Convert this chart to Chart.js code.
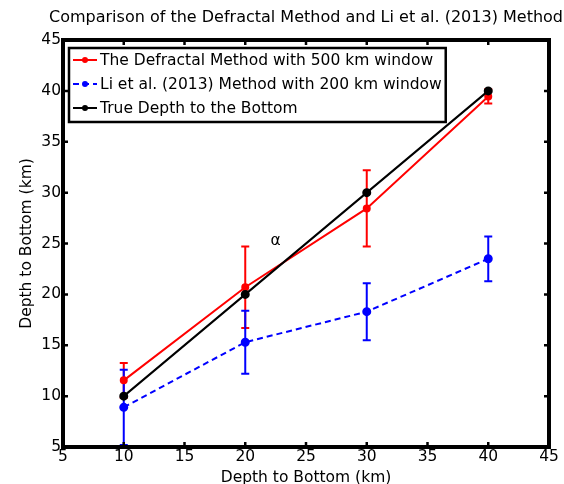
<!DOCTYPE html>
<html>
<head>
<meta charset="utf-8">
<script src="https://cdn.jsdelivr.net/npm/chart.js"></script>
<style>
html, body { margin: 0; padding: 0; background: #fff; }
</style>
</head>
<body>
<canvas id="depthChart" width="564" height="484"></canvas>
<script>
// values
const depth = [10, 20, 30, 40];
const defractal = [11.55, 20.7, 28.45, 39.45];
const defractalErr = [1.7, 4.0, 3.75, 0.7];
const liMethod = [8.9, 15.3, 18.3, 23.5];
const liErr = [3.7, 3.1, 2.8, 2.2];
const trueDepth = [10, 20, 30, 40];
const axisTicks = [5, 10, 15, 20, 25, 30, 35, 40, 45];
const seriesLabels = ['The Defractal Method with 500 km window', 'Li et al. (2013) Method with 200 km window', 'True Depth to the Bottom'];
const titleText = 'Comparison of the Defractal Method and Li et al. (2013) Method';
const axisTitle = 'Depth to Bottom (km)';
const note = { x: 22.5, y: 25.2, text: 'α' };

const FONT = '"DejaVu Sans", "Liberation Sans", Arial, sans-serif';
const FS = 15.5;

function points(xs, ys) {
	return xs.map((x, i) => ({ x: x, y: ys[i] }));
}

// vertical error bars with caps
const errorBars = {
	id: 'errorBars',
	beforeDatasetsDraw(chart) {
		const ctx = chart.ctx, xs = chart.scales.x, ys = chart.scales.y;
		chart.data.datasets.forEach(ds => {
			if (!ds.errors) return;
			ctx.save();
			ctx.strokeStyle = ds.borderColor;
			ctx.lineWidth = 2;
			ds.data.forEach((p, i) => {
				const e = ds.errors[i];
				const px = xs.getPixelForValue(p.x);
				const top = ys.getPixelForValue(p.y + e);
				const bot = ys.getPixelForValue(p.y - e);
				ctx.beginPath();
				ctx.moveTo(px, top); ctx.lineTo(px, bot);
				ctx.moveTo(px - 4, top); ctx.lineTo(px + 4, top);
				ctx.moveTo(px - 4, bot); ctx.lineTo(px + 4, bot);
				ctx.stroke();
			});
			ctx.restore();
		});
	}
};

// title, box frame, inward ticks, legend and the alpha note
const frame = {
	id: 'frame',
	afterDraw(chart) {
		const ctx = chart.ctx, ca = chart.chartArea, xs = chart.scales.x, ys = chart.scales.y;
		ctx.save();
		ctx.strokeStyle = '#000';
		ctx.lineWidth = 2.5;
		ctx.beginPath();
		axisTicks.forEach(v => {
			const px = xs.getPixelForValue(v);
			ctx.moveTo(px, ca.bottom); ctx.lineTo(px, ca.bottom - 5);
			ctx.moveTo(px, ca.top); ctx.lineTo(px, ca.top + 5);
			const py = ys.getPixelForValue(v);
			ctx.moveTo(ca.left, py); ctx.lineTo(ca.left + 5, py);
			ctx.moveTo(ca.right, py); ctx.lineTo(ca.right - 5, py);
		});
		ctx.stroke();
		ctx.lineWidth = 4;
		ctx.strokeRect(ca.left, ca.top, ca.right - ca.left, ca.bottom - ca.top);

		ctx.fillStyle = '#000';
		ctx.textAlign = 'center';
		ctx.textBaseline = 'middle';
		// title, centred over the axes
		ctx.font = '16px ' + FONT;
		ctx.fillText(titleText, (ca.left + ca.right) / 2, 18);
		// alpha label
		ctx.font = FS + 'px ' + FONT;
		ctx.fillText(note.text, xs.getPixelForValue(note.x), ys.getPixelForValue(note.y));

		// legend
		const ds = chart.data.datasets;
		const lx = ca.left + 6, ly = ca.top + 8;
		const textX = lx + 31;
		let maxW = 0;
		ds.forEach(d => { maxW = Math.max(maxW, ctx.measureText(d.label).width); });
		const lw = textX - lx + maxW + 4, lh = 74;
		ctx.fillStyle = '#fff';
		ctx.fillRect(lx, ly, lw, lh);
		ctx.lineWidth = 2.5;
		ctx.strokeStyle = '#000';
		ctx.strokeRect(lx, ly, lw, lh);
		ctx.textAlign = 'left';
		ds.forEach((d, i) => {
			const y = ly + 12 + i * 24;
			ctx.strokeStyle = d.borderColor;
			ctx.lineWidth = 2;
			ctx.setLineDash(d.borderDash || []);
			ctx.beginPath();
			ctx.moveTo(lx + 4, y); ctx.lineTo(lx + 28, y);
			ctx.stroke();
			ctx.setLineDash([]);
			ctx.fillStyle = d.borderColor;
			ctx.beginPath();
			ctx.arc(lx + 16, y, 3, 0, Math.PI * 2);
			ctx.fill();
			ctx.fillStyle = '#000';
			ctx.fillText(d.label, textX, y + 1);
		});
		ctx.restore();
	}
};

const ctx = document.getElementById('depthChart').getContext('2d');
const myChart = new Chart(ctx, {
	type: 'line',
	data: {
		datasets: [{
			label: seriesLabels[0],
			data: points(depth, defractal),
			errors: defractalErr,
			borderColor: '#ff0000',
			backgroundColor: '#ff0000',
			borderWidth: 2,
			pointRadius: 3,
			order: 3
		}, {
			label: seriesLabels[1],
			data: points(depth, liMethod),
			errors: liErr,
			borderColor: '#0000ff',
			backgroundColor: '#0000ff',
			borderWidth: 2,
			borderDash: [6, 4],
			pointRadius: 3.5,
			order: 2
		}, {
			label: seriesLabels[2],
			data: points(depth, trueDepth),
			borderColor: '#000000',
			backgroundColor: '#000000',
			borderWidth: 2,
			pointRadius: 3.5,
			order: 1
		}]
	},
	options: {
		responsive: false,
		animation: false,
		events: [],
		layout: { padding: { top: 40, right: 15, bottom: 0, left: 0 } },
		plugins: {
			legend: { display: false },
			tooltip: { enabled: false },
			title: { display: false }
		},
		scales: {
			x: {
				type: 'linear',
				min: 5,
				max: 45,
				afterBuildTicks: s => { s.ticks = axisTicks.map(v => ({ value: v })); },
				afterFit: s => { s.height = 37; },
				grid: { display: false, drawTicks: false },
				border: { display: false },
				ticks: { color: '#000', padding: 1, maxRotation: 0, font: { family: FONT, size: FS } },
				title: { display: true, text: axisTitle, color: '#000', font: { family: FONT, size: FS }, padding: { top: 0, bottom: -3 } }
			},
			y: {
				min: 5,
				max: 45,
				afterBuildTicks: s => { s.ticks = axisTicks.map(v => ({ value: v })); },
				afterFit: s => { s.width = 63; },
				grid: { display: false, drawTicks: false },
				border: { display: false },
				ticks: { color: '#000', padding: 2, font: { family: FONT, size: FS } },
				title: { display: true, text: axisTitle, color: '#000', font: { family: FONT, size: FS }, padding: { top: 18, bottom: 0 } }
			}
		}
	},
	plugins: [errorBars, frame]
});
</script>
</body>
</html>
